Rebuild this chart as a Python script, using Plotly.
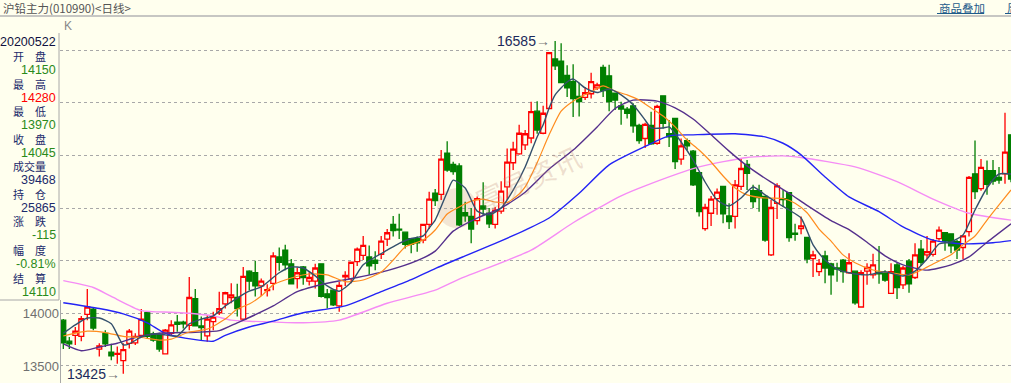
import plotly.graph_objects as go

BG = "#FFFFEE"

# ---------------- candle data (index = trading day) ----------------
idx = list(range(159))
open_ = [13935,13735,13790,13780,13990,14040,13660,13810,13630,13610,
         13550,13715,13720,13790,14005,13805,13800,13615,13810,13915,
         13915,13885,14140,13880,13785,13920,14005,14090,14150,14150,
         13945,14400,14385,14260,14215,14285,14535,14600,14470,14330,
         14440,14305,14305,14470,14185,14220,14070,14345,14330,14490,
         14550,14535,14505,14560,14705,14845,14800,14770,14710,14710,
         14695,14845,15140,15130,15520,15415,15400,14955,14920,14880,
         15020,14950,14845,14970,15200,15430,15515,15600,15665,15920,
         15710,15945,16415,16395,16260,16200,16060,16050,16085,16140,
         16335,16255,16090,15970,15940,15970,15785,15660,15785,15615,
         16065,15705,15850,15465,15640,15540,15335,14805,14950,15090,
         15205,14925,14920,15205,15415,15165,15165,15110,14555,15045,
         15090,15145,14760,14805,14720,14520,14395,14545,14470,14430,
         14505,14385,14400,14060,14400,14365,14390,14380,14190,14460,
         14270,14495,14340,14610,14555,14560,14710,14765,14755,14680,
         14625,14775,15325,15185,15355,15355,15290,15325,15695]
high = [13945,13775,13870,13975,14230,14050,13715,13840,13710,13685,
        13715,13850,13810,14040,14010,13825,13815,13850,13935,13985,
        13930,14345,14230,13970,13985,14015,14205,14205,14285,14280,
        14440,14410,14500,14330,14275,14580,14625,14650,14515,14435,
        14450,14390,14470,14470,14230,14225,14300,14400,14490,14625,
        14735,14645,14590,14735,14800,14925,14945,14775,14710,14730,
        14850,15155,15180,15550,15635,15440,15425,15060,15000,15110,
        15245,15000,15010,15255,15565,15630,15790,15740,16010,16015,
        15970,16480,16585,16565,16355,16365,16190,16150,16285,16190,
        16360,16360,16090,16010,15960,15995,15800,15810,15915,15980,
        16065,15835,15855,15660,15660,15550,15340,15040,15115,15185,
        15210,15045,15265,15465,15455,15220,15220,15110,15075,15235,
        15170,15145,14850,14920,14720,14595,14515,14595,14480,14480,
        14515,14570,14400,14410,14475,14565,14640,14410,14475,14480,
        14450,14515,14665,14695,14735,14705,14825,14765,14755,14695,
        14735,15305,15640,15465,15450,15455,15390,15905,15695]
low = [13660,13660,13700,13735,13935,13840,13590,13680,13555,13520,
       13425,13665,13700,13770,13760,13730,13635,13610,13795,13825,
       13855,13840,13875,13745,13730,13840,13985,14045,14095,13970,
       13935,14220,14160,14165,14160,14220,14405,14410,14275,14235,
       14270,14265,14235,14150,14045,14070,14015,14260,14285,14450,
       14505,14365,14410,14515,14640,14730,14705,14615,14570,14585,
       14665,14800,15020,15075,15345,15315,14830,14870,14665,14840,
       14935,14810,14805,14945,15075,15360,15505,15550,15615,15705,
       15700,15940,16310,16185,16055,15865,15870,16025,16040,16120,
       16055,15920,15930,15790,15850,15715,15610,15570,15600,15600,
       15755,15580,15370,15410,15550,15210,14920,14785,14830,14935,
       14855,14800,14805,15170,15170,15000,14965,14680,14545,14895,
       15010,14680,14690,14750,14475,14345,14355,14285,14175,14300,
       14290,14375,14080,14055,14270,14330,14280,14300,14190,14135,
       14230,14195,14325,14450,14515,14540,14690,14595,14570,14515,
       14515,14730,15085,15165,15125,15220,15230,15230,15245]
close = [13720,13710,13830,13950,14060,13860,13690,13710,13595,13620,
         13655,13830,13780,13945,13780,13745,13660,13840,13890,13895,
         13900,14150,13880,13865,13945,13965,14045,14195,14175,14045,
         14350,14305,14260,14305,14225,14545,14485,14460,14280,14385,
         14340,14340,14430,14160,14150,14080,14265,14360,14485,14610,
         14645,14450,14475,14685,14765,14785,14790,14655,14655,14670,
         14845,15085,15070,15465,15360,15345,14840,14925,14800,15090,
         14990,14850,14980,15160,15435,15560,15710,15705,15915,15740,
         15900,16475,16350,16190,16140,16040,16010,16095,16200,16170,
         16115,16010,16025,15940,15900,15780,15640,15795,15610,15965,
         15805,15675,15440,15590,15590,15220,14965,15005,15085,15150,
         14945,14870,15220,15375,15330,15060,15100,14695,15005,15210,
         15080,14720,14750,14830,14515,14555,14475,14430,14365,14420,
         14395,14480,14100,14385,14435,14460,14375,14315,14395,14245,
         14430,14280,14555,14485,14585,14685,14790,14685,14640,14600,
         14735,15290,15155,15385,15225,15255,15265,15530,15275]

# ---------------- moving averages ----------------
ma5_idx = [0,2,4,6,8,10,11,13,15,17,19,21,23,25,27,29,31,33,36,38,40,42,44,46,48,
           50,52,54,56,58,60,61,62,64,65,67,69,71,73,75,77,79,80,81,82,84,85,87,89,
           91,93,95,97,98,100,101,103,105,107,109,111,113,115,117,119,121,123,125,
           127,129,131,134,137,140,142,144,146,148,150,152,154,156,158]
ma5_val = [13810,13890,13955,13955,13900,13700,13710,13775,13805,13795,13784,13900,
           13945,13975,14069,14145,14210,14250,14385,14440,14430,14355,14260,14210,
           14295,14460,14535,14600,14665,14710,14735,14810,14885,15150,15265,15190,
           14970,14935,15000,15170,15390,15675,15790,15950,16075,16197,16225,16140,
           16097,16130,16075,15980,15836,15760,15760,15770,15627,15456,15247,15076,
           15019,15095,15200,15125,15050,14981,14905,14650,14506,14420,14385,14365,
           14395,14354,14400,14515,14658,14677,14745,14981,15190,15323,15323]

ma10_idx = [0,4,7,10,13,16,18,21,24,27,29,31,33,35,38,41,44,47,50,53,55,57,60,62,
            64,66,68,70,72,74,76,77,79,81,83,85,88,90,92,94,96,98,100,102,104,106,
            108,110,112,114,117,120,122,124,126,128,130,132,135,138,141,143,145,
            148,150,152,154,156,158]
ma10_val = [13784,13830,13817,13780,13770,13746,13755,13822,13850,13945,14040,14088,
            14164,14270,14335,14373,14365,14300,14316,14392,14506,14630,14696,14791,
            14943,15010,15065,15085,15057,15052,15133,15200,15430,15695,15920,16015,
            16105,16159,16110,16075,16026,15950,15874,15770,15646,15551,15437,15304,
            15190,15125,15095,15090,15045,14955,14800,14685,14555,14480,14411,14385,
            14365,14410,14468,14555,14650,14734,14886,15030,15171]

ma20_idx = [0,3,6,9,12,16,22,26,29,31,35,39,44,49,54,59,62,65,69,73,77,81,85,89,92,
            95,99,102,105,108,111,114,118,121,124,128,131,134,137,140,144,148,151,
            154,158]
ma20_val = [13710,13645,13680,13715,13770,13810,13820,13835,13910,13960,14070,14205,
            14285,14340,14405,14500,14590,14780,14905,15000,15150,15370,15550,15770,
            15945,16025,16015,15950,15845,15695,15540,15400,15245,15140,15025,14880,
            14795,14675,14545,14460,14410,14460,14535,14675,14850]

ma40_idx = [0,6,10,14,17,22,25,27,31,35,40,47,53,58,62,67,71,77,81,86,91,97,101,
            105,112,117,120,123,127,131,136,140,145,150,155,158]
ma40_val = [14100,14045,13995,13910,13810,13750,13735,13790,13870,13925,14005,14070,
            14205,14320,14425,14545,14640,14790,14905,15140,15410,15585,15685,15695,
            15705,15675,15615,15505,15295,15105,14965,14820,14695,14660,14670,14690]

ma60_idx = [0,5,8,13,18,21,25,28,31,40,46,54,62,66,78,85,93,97,106,114,120,123,132,
            139,145,151,158]
ma60_val = [14310,14245,14160,14025,14010,14000,13975,13935,13925,13910,13935,14095,
            14220,14325,14600,14860,15115,15210,15390,15480,15495,15480,15390,15250,
            15085,14950,14885]

# y-axis ticks
tick_vals = [13500, 14000, 14500, 15000, 15500, 16000, 16500]
tick_text = ["13500", "14000", "", "", "", "", ""]

# info panel content
info_date = "20200522"
info_labels = ["开　盘", "最　高", "最　低", "收　盘", "成交量", "持　仓", "涨　跌", "幅　度", "结　算"]
info_values = ["14150", "14280", "13970", "14045", "39468", "25865", "-115", "-0.81%", "14110"]
info_colors = ["#2A8A1A", "#FF0000", "#2A8A1A", "#2A8A1A", "#1B2A6B", "#1B2A6B",
               "#2A8A1A", "#2A8A1A", "#2A8A1A"]

W, H = 1011, 383
def px(x): return x / W
def py(y): return 1 - y / H

fig = go.Figure()
fig.add_trace(go.Candlestick(
    x=idx, open=open_, high=high, low=low, close=close,
    increasing=dict(line=dict(color="#FF0000", width=1.3), fillcolor=BG),
    decreasing=dict(line=dict(color="#007F00", width=1.3), fillcolor="#007F00"),
    whiskerwidth=0, showlegend=False, hoverinfo="skip"))

for xs, ys, col, w in [(ma60_idx, ma60_val, "#F58CF5", 1.4),
                       (ma40_idx, ma40_val, "#2323F5", 1.4),
                       (ma20_idx, ma20_val, "#55308C", 1.4),
                       (ma10_idx, ma10_val, "#FF8C1E", 1.2),
                       (ma5_idx, ma5_val, "#34506C", 1.4)]:
    fig.add_trace(go.Scatter(x=xs, y=ys, mode="lines",
                             line=dict(color=col, width=w, shape="spline", smoothing=0.6),
                             showlegend=False, hoverinfo="skip"))

shapes = [
    # watermark logo disc
    dict(type="circle", xref="paper", yref="paper", layer="below",
         x0=px(437), x1=px(477), y0=py(228), y1=py(188),
         fillcolor="rgba(205,160,140,0.26)", line=dict(width=0)),
    dict(type="line", xref="paper", yref="paper", x0=0, x1=1, y0=py(16), y1=py(16),
         line=dict(color="#B4B4B4", width=1.5)),
    dict(type="line", xref="paper", yref="paper", x0=px(59), x1=px(59), y0=py(33), y1=py(300),
         line=dict(color="#A8A8A8", width=1)),
    dict(type="line", xref="paper", yref="paper", x0=0, x1=px(59), y0=py(300), y1=py(300),
         line=dict(color="#A8A8A8", width=1)),
    dict(type="line", xref="paper", yref="paper", x0=px(60.5), x1=px(60.5), y0=py(300), y1=0,
         line=dict(color="#A8A8A8", width=1)),
    dict(type="line", xref="paper", yref="paper", x0=px(937), x1=px(984), y0=py(13.5), y1=py(13.5),
         line=dict(color="#1D5A8A", width=1)),
    dict(type="line", xref="paper", yref="paper", x0=px(1005), x1=1, y0=py(13.5), y1=py(13.5),
         line=dict(color="#1D5A8A", width=1)),
]

CJK = "Noto Sans CJK SC"
NUM = "Liberation Sans"
ann = []
def note(x, y, text, anchor, family, size, color, **kw):
    d = dict(x=px(x), y=py(y), xref="paper", yref="paper", text=text, showarrow=False,
             xanchor=anchor, yanchor="middle", font=dict(family=family, size=size, color=color))
    d.update(kw)
    ann.append(d)

note(1, 8.5, "沪铅主力(010990)<日线>", "left", CJK, 11.5, "#555555")
note(937, 8, "商品叠加", "left", CJK, 11.5, "#1D5A8A")
note(1005, 8, "周期", "left", CJK, 11.5, "#1D5A8A")
note(62, 26, "K", "left", NUM, 12, "#888888")
note(58, 42.3, info_date, "right", NUM, 12.5, "#101040")
lab_y = [56.7, 84, 111.7, 139.3, 166.7, 194, 221.7, 250, 278.3]
for k, (lab, val, col) in enumerate(zip(info_labels, info_values, info_colors)):
    note(29, lab_y[k] - 0.5, lab, "center", CJK, 11, "#1B2A6B")
    note(58, lab_y[k] + 13.5, val, "right", NUM, 12.5, col)

# extreme labels
ann.append(dict(x=82, y=16585, xref="x", yref="y", text="16585<span style='color:#777777'>→</span>",
                showarrow=False, xanchor="right", yanchor="middle", xshift=-3,
                font=dict(family=NUM, size=14, color="#1B2A5B")))
ann.append(dict(x=10, y=13425, xref="x", yref="y", text="13425<span style='color:#777777'>→</span>",
                showarrow=False, xanchor="right", yanchor="middle", xshift=-1,
                font=dict(family=NUM, size=14, color="#1B2A5B")))
# watermark
ann.append(dict(x=px(528), y=py(178), xref="paper", yref="paper", text="富易资讯",
                showarrow=False, textangle=-25,
                font=dict(family=CJK, size=28, color="rgba(190,130,110,0.26)")))

fig.update_layout(
    width=W, height=H, margin=dict(l=0, r=0, t=0, b=0),
    paper_bgcolor=BG, plot_bgcolor=BG,
    boxgap=0.1, boxgroupgap=0.1,
    shapes=shapes, annotations=ann, showlegend=False,
    xaxis=dict(domain=[60 / W, 1], range=[-0.55, 158.0], showticklabels=False,
               showgrid=False, zeroline=False, showline=False, ticks="",
               rangeslider=dict(visible=False)),
    yaxis=dict(domain=[0, 1], range=[13338, 16975.5], tickvals=tick_vals, ticktext=tick_text,
               showgrid=True, gridcolor="#A8A8A8", griddash="dot", gridwidth=1,
               zeroline=False, showline=False, ticks="",
               tickfont=dict(family=NUM, size=13, color="#707070")),
)

fig.write_html("out.html", config={"displayModeBar": False},
               post_script="document.body.style.margin='0px';document.body.style.overflow='hidden';")
